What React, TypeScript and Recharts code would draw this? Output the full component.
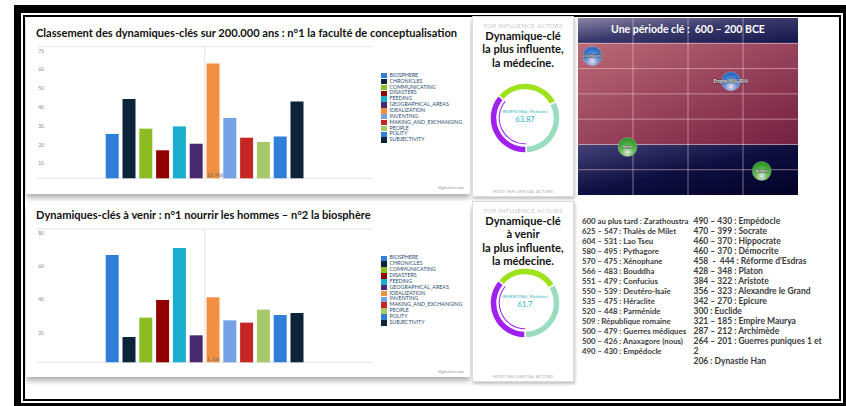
import {
  Bar,
  BarChart,
  CartesianGrid,
  Cell,
  Legend,
  Pie,
  PieChart,
  ReferenceArea,
  ReferenceLine,
  Scatter,
  ScatterChart,
  XAxis,
  YAxis,
} from "recharts";

// dynamiques-clés (Highcharts default palette)
const dynamics = [
  "BIOSPHERE",
  "CHRONICLES",
  "COMMUNICATING",
  "DISASTERS",
  "FEEDING",
  "GEOGRAPHICAL_AREAS",
  "IDEALIZATION",
  "INVENTING",
  "MAKING_AND_EXCHANGING",
  "PEOPLE",
  "POLITY",
  "SUBJECTIVITY",
];
const dynamicColors = [
  "#2f7ed8",
  "#0d233a",
  "#8bbc21",
  "#910000",
  "#1aadce",
  "#492970",
  "#f28f43",
  "#77a1e5",
  "#c42525",
  "#a6c96a",
  "#2f7ed8",
  "#0d233a",
];
const pastValues = [23.6, 42.2, 26.4, 14.9, 27.6, 18.4, 61.0, 32.1, 21.6, 19.3, 22.2, 40.9];
const futureValues = [64.4, 15.2, 26.8, 37.4, 68.6, 16.2, 39.0, 25.2, 23.8, 31.6, 28.4, 29.6];
const pastTicks = [0, 10, 20, 30, 40, 50, 60, 70];
const futureTicks = [0, 20, 40, 60, 80];

// donuts
const shareColors = ["#9ee21c", "#99dcc0", "#a020f0"];
const pastShares = [
  { name: "FEEDING", value: 54.2 },
  { name: "IDEALIZATION", value: 56.1 },
  { name: "INVENTING_Medicine", value: 63.87 },
];
const futureShares = [
  { name: "FEEDING", value: 51.2 },
  { name: "IDEALIZATION", value: 58.0 },
  { name: "INVENTING_Medicine", value: 61.7 },
];

// période clé
const yearTicks = [-600, -500, -400, -300, -200];
const rowTicks = [1, 2, 3, 4, 5, 6];
const thinkers = [
  { x: -574, y: 5.5, name: "Zarathoustra" },
  { x: -322, y: 4.5, name: "Empire MAURYA" },
];
const empires = [
  { x: -510, y: 1.9, name: "Rome" },
  { x: -266, y: 0.95, name: "Ashoka" },
];

const leftEvents = [
  "600 au plus tard : Zarathoustra",
  "625 – 547 : Thalès de Milet",
  "604 – 531 : Lao Tseu",
  "580 – 495 : Pythagore",
  "570 – 475 : Xénophane",
  "566 – 483 : Bouddha",
  "551 – 479 : Confucius",
  "550 – 539 : Deutéro-Isaïe",
  "535 – 475 : Héraclite",
  "520 – 448 : Parménide",
  "509 : République romaine",
  "500 – 479 : Guerres médiques",
  "500 – 426 : Anaxagore (nous)",
  "490 – 430 : Empédocle",
];
const rightEvents = [
  "490 – 430 : Empédocle",
  "470 – 399 : Socrate",
  "460 – 370 : Hippocrate",
  "460 – 370 : Démocrite",
  "458  -  444 : Réforme d'Esdras",
  "428 – 348 : Platon",
  "384 – 322 : Aristote",
  "356 – 323 : Alexandre le Grand",
  "342 – 270 : Epicure",
  "300 : Euclide",
  "321 – 185 : Empire Maurya",
  "287 – 212 : Archimède",
  "264 – 201 : Guerres puniques 1 et",
  "2",
  "206 : Dynastie Han",
];

const FONT = "Lato, 'Open Sans', sans-serif";

const AxisTick = ({ x, y, payload, textAnchor }: any) =>
  payload.value === 0 ? null : (
    <text x={x} y={y + 5.8} textAnchor={textAnchor} fontSize={5} fill="#8a8a8a" fontFamily={FONT}>
      {payload.value}
    </text>
  );

const renderLegend = ({ payload }: any) => (
  <div>
    {payload.map((item: any) => (
      <div key={item.value} style={{ display: "flex", alignItems: "center", height: 5.87 }}>
        <span style={{ width: 5.5, height: 5.5, background: item.color, marginRight: 3 }} />
        <span style={{ fontSize: 5.3, color: "#274b6d", fontFamily: FONT, lineHeight: "5.87px" }}>
          {item.value}
        </span>
      </div>
    ))}
  </div>
);

function DynamicsChart({
  top,
  plotTop,
  plotBottom,
  values,
  ticks,
  dateLabel,
  legendTop,
}: {
  top: number;
  plotTop: number;
  plotBottom: number;
  values: number[];
  ticks: number[];
  dateLabel: string;
  legendTop: number;
}) {
  const row: Record<string, string | number> = { date: dateLabel };
  dynamics.forEach((name, i) => (row[name] = values[i]));
  const domain = [0, ticks[ticks.length - 1]];
  return (
    <div style={{ position: "absolute", left: 20, top }}>
      <BarChart
        width={450}
        height={150}
        data={[row]}
        barSize={13}
        barGap={3.8}
        margin={{ top: plotTop - top, right: 97.3, left: 16.7, bottom: top + 150 - plotBottom }}
      >
        <CartesianGrid stroke="#e4e4e4" vertical={false} />
        <ReferenceLine
          x={dateLabel}
          yAxisId="left"
          stroke="#e4e4e4"
          label={(p: any) => (
            <text
              x={p.viewBox.x + 2}
              y={p.viewBox.y + p.viewBox.height - 1.5}
              fontSize={5}
              fill="#6b6b6b"
              fontFamily={FONT}
            >
              {dateLabel}
            </text>
          )}
        />
        {dynamics.map((name, i) => (
          <Bar
            key={name}
            yAxisId="left"
            dataKey={name}
            fill={dynamicColors[i]}
            isAnimationActive={false}
          />
        ))}
        <XAxis dataKey="date" height={0} tick={false} tickLine={false} axisLine={{ stroke: "#c0d0e0" }} />
        <YAxis
          yAxisId="left"
          domain={domain}
          ticks={ticks}
          interval={0}
          mirror
          tickSize={0}
          tickMargin={1.5}
          axisLine={false}
          tick={<AxisTick />}
        />
        <YAxis
          yAxisId="right"
          orientation="right"
          domain={domain}
          ticks={ticks}
          interval={0}
          mirror
          tickSize={0}
          tickMargin={1}
          axisLine={false}
          tick={<AxisTick />}
        />
        <Legend
          layout="vertical"
          align="center"
          verticalAlign="middle"
          content={renderLegend}
          wrapperStyle={{ left: 361, top: legendTop, width: 100 }}
        />
      </BarChart>
    </div>
  );
}

function InfluencePanel({
  top,
  height,
  lines,
  shares,
  pieTop,
}: {
  top: number;
  height: number;
  lines: string[];
  shares: { name: string; value: number }[];
  pieTop: number;
}) {
  const lead = shares[shares.length - 1];
  return (
    <>
      <div
        style={{
          position: "absolute",
          left: 472,
          top,
          width: 102,
          height,
          background: "#fff",
          border: "1px solid #ddd",
          boxShadow: "1px 2px 3px rgba(0,0,0,0.25)",
          boxSizing: "border-box",
        }}
      />
      <div
        style={{
          position: "absolute",
          left: 472,
          width: 102,
          top: top + 6.5,
          textAlign: "center",
          fontSize: 6.3,
          lineHeight: "6px",
          color: "#c8c8c8",
          fontFamily: FONT,
          letterSpacing: 0.3,
        }}
      >
        TOP INFLUENCE ACTORS
      </div>
      <div
        style={{
          position: "absolute",
          left: 472,
          width: 102,
          top: top + 13,
          textAlign: "center",
          fontSize: 11.2,
          lineHeight: "13.4px",
          fontWeight: 700,
          color: "#111",
          fontFamily: FONT,
        }}
      >
        {lines.map((l) => (
          <div key={l}>{l}</div>
        ))}
      </div>
      <div style={{ position: "absolute", left: 475, top: pieTop }}>
        <PieChart width={100} height={100} margin={{ top: 0, right: 0, bottom: 0, left: 0 }}>
          <Pie
            data={shares}
            dataKey="value"
            cx={50}
            cy={50}
            innerRadius={28}
            outerRadius={35}
            startAngle={140}
            endAngle={-220}
            stroke="#fff"
            strokeWidth={1.5}
            isAnimationActive={false}
          >
            {shares.map((s, i) => (
              <Cell key={s.name} fill={shareColors[i]} />
            ))}
          </Pie>
          <Pie
            data={shares}
            dataKey="value"
            cx={50}
            cy={50}
            innerRadius={25.3}
            outerRadius={26.3}
            startAngle={140}
            endAngle={-220}
            stroke="none"
            isAnimationActive={false}
          >
            {shares.map((s, i) => (
              <Cell key={s.name} fill={i === shares.length - 1 ? shareColors[i] : "transparent"} />
            ))}
          </Pie>
        </PieChart>
        <div
          style={{
            position: "absolute",
            left: 0,
            width: 100,
            top: 39.5,
            textAlign: "center",
            fontFamily: FONT,
            color: "#2ab3b8",
          }}
        >
          <div style={{ fontSize: 4.6, lineHeight: "7px" }}>{lead.name}</div>
          <div style={{ fontSize: 7.6, lineHeight: "9px" }}>{lead.value}</div>
        </div>
      </div>
      <div
        style={{
          position: "absolute",
          left: 472,
          width: 102,
          top: top + height - 8,
          textAlign: "center",
          fontSize: 4.2,
          color: "#aaa",
          fontFamily: FONT,
          letterSpacing: 0.2,
        }}
      >
        MOST INFLUENTIAL ACTORS
      </div>
    </>
  );
}

const Bubble = ({ cx, cy, payload, fill, fontSize }: any) => (
  <g>
    <circle cx={cx} cy={cy} r={9.5} fill={fill} stroke="rgba(255,255,255,0.35)" strokeWidth={0.6} />
    <text
      x={cx}
      y={cy + 1.4}
      textAnchor="middle"
      fontSize={fontSize}
      fontFamily={FONT}
      fontWeight={700}
      fill="#fff"
      stroke="#000"
      strokeWidth={0.5}
      paintOrder="stroke"
    >
      {payload.name}
    </text>
  </g>
);

const gridStroke = "rgba(255,215,215,0.55)";

function PeriodChart() {
  return (
    <div style={{ position: "absolute", left: 578, top: 18 }}>
      <ScatterChart width={220} height={177} margin={{ top: 0, right: 0, bottom: 0, left: 0 }}>
        <defs>
          <linearGradient id="bandTop" x1="0" y1="0" x2="1" y2="1">
            <stop offset="0%" stopColor="#8a84a6" />
            <stop offset="45%" stopColor="#3b3a6c" />
            <stop offset="100%" stopColor="#15154a" />
          </linearGradient>
          <linearGradient id="bandRed" x1="0" y1="0" x2="1" y2="1">
            <stop offset="0%" stopColor="#bb6a77" />
            <stop offset="55%" stopColor="#94405a" />
            <stop offset="100%" stopColor="#74203f" />
          </linearGradient>
          <linearGradient id="bandLow" x1="0" y1="0" x2="1" y2="1">
            <stop offset="0%" stopColor="#45437a" />
            <stop offset="50%" stopColor="#0e0e40" />
            <stop offset="100%" stopColor="#020228" />
          </linearGradient>
          <radialGradient id="bubbleBlue" cx="50%" cy="78%" r="65%">
            <stop offset="0%" stopColor="#f2dbe8" />
            <stop offset="45%" stopColor="#6d9ad8" />
            <stop offset="100%" stopColor="#2a6cc4" />
          </radialGradient>
          <radialGradient id="bubbleGreen" cx="50%" cy="78%" r="65%">
            <stop offset="0%" stopColor="#e8e4ee" />
            <stop offset="45%" stopColor="#6fbf5c" />
            <stop offset="100%" stopColor="#2f9a2a" />
          </radialGradient>
        </defs>
        <XAxis type="number" dataKey="x" domain={[-600, -200]} ticks={yearTicks} hide />
        <YAxis type="number" dataKey="y" domain={[0, 7]} hide />
        <ReferenceArea y1={6} y2={7} fill="url(#bandTop)" fillOpacity={1} stroke="none" />
        <ReferenceArea y1={2} y2={6} fill="url(#bandRed)" fillOpacity={1} stroke="none" />
        <ReferenceArea y1={0} y2={2} fill="url(#bandLow)" fillOpacity={1} stroke="none" />
        {yearTicks.slice(1, -1).map((t) => (
          <ReferenceLine key={`x${t}`} x={t} stroke={gridStroke} strokeWidth={0.9} />
        ))}
        {rowTicks.map((t) => (
          <ReferenceLine key={`y${t}`} y={t} stroke={gridStroke} strokeWidth={0.9} />
        ))}
        <Scatter
          data={thinkers}
          isAnimationActive={false}
          shape={(p: any) => (
            <Bubble {...p} fill="url(#bubbleBlue)" fontSize={p.payload.name.length > 12 ? 4.6 : 3.4} />
          )}
        />
        <Scatter
          data={empires}
          isAnimationActive={false}
          shape={(p: any) => <Bubble {...p} fill="url(#bubbleGreen)" fontSize={3.8} />}
        />
      </ScatterChart>
      <div
        style={{
          position: "absolute",
          left: 0,
          top: 5,
          width: 220,
          textAlign: "center",
          color: "#fff",
          fontFamily: FONT,
          fontWeight: 700,
          fontSize: 10.5,
          whiteSpace: "pre",
        }}
      >
        {"Une période clé :  600 – 200 BCE"}
      </div>
    </div>
  );
}

const titleStyle = {
  position: "absolute" as const,
  left: 36,
  fontFamily: FONT,
  fontWeight: 700,
  fontSize: 11.1,
  lineHeight: "14px",
  color: "#111",
  whiteSpace: "nowrap" as const,
};

const creditStyle = {
  position: "absolute" as const,
  left: 420,
  width: 44,
  textAlign: "right" as const,
  fontFamily: FONT,
  fontSize: 3.8,
  color: "#999",
};

const eventStyle = {
  position: "absolute" as const,
  top: 215.7,
  fontFamily: FONT,
  fontWeight: 700,
  lineHeight: "10px",
  color: "#3a3a3a",
  whiteSpace: "pre" as const,
};

export default function App() {
  return (
    <div
      style={{
        position: "fixed",
        left: 0,
        top: 0,
        width: 846,
        height: 406,
        background: "#fff",
        overflow: "hidden",
      }}
    >
      <div
        style={{
          position: "absolute",
          left: 14,
          top: 5,
          width: 832,
          height: 401,
          boxSizing: "border-box",
          borderStyle: "solid",
          borderColor: "#000",
          borderWidth: "8px 3px 3px 7px",
        }}
      />
      <div
        style={{
          position: "absolute",
          left: 23,
          top: 15,
          width: 818,
          height: 386,
          boxSizing: "border-box",
          border: "2px solid #000",
        }}
      />

      <div
        style={{
          position: "absolute",
          left: 26,
          top: 17,
          width: 444,
          height: 177,
          background: "#fff",
          boxShadow: "0 4px 5px rgba(0,0,0,0.3)",
        }}
      />
      <div
        style={{
          position: "absolute",
          left: 26,
          top: 204,
          width: 444,
          height: 173,
          background: "#fff",
          boxShadow: "0 4px 5px rgba(0,0,0,0.3)",
        }}
      />
      <div style={{ ...titleStyle, top: 26 }}>
        Classement des dynamiques-clés sur 200.000 ans : n°1 la faculté de conceptualisation
      </div>
      <div style={{ ...titleStyle, top: 208 }}>
        Dynamiques-clés à venir : n°1 nourrir les hommes – n°2 la biosphère
      </div>
      <DynamicsChart
        top={40}
        plotTop={46.7}
        plotBottom={178.3}
        values={pastValues}
        ticks={pastTicks}
        dateLabel="16. Mai"
        legendTop={32.8}
      />
      <DynamicsChart
        top={225}
        plotTop={229}
        plotBottom={362.3}
        values={futureValues}
        ticks={futureTicks}
        dateLabel="1. Jun"
        legendTop={30.4}
      />
      <div style={{ ...creditStyle, top: 185 }}>Highcharts.com</div>
      <div style={{ ...creditStyle, top: 368.5 }}>Highcharts.com</div>

      <InfluencePanel
        top={16}
        height={181}
        lines={["Dynamique-clé", "la plus influente,", "la médecine."]}
        shares={pastShares}
        pieTop={68}
      />
      <InfluencePanel
        top={201}
        height={181}
        lines={["Dynamique-clé", "à venir", "la plus influente,", "la médecine."]}
        shares={futureShares}
        pieTop={253}
      />

      <PeriodChart />

      <div style={{ ...eventStyle, left: 582, fontSize: 7.8 }}>
        {leftEvents.map((e, i) => (
          <div key={i}>{e}</div>
        ))}
      </div>
      <div style={{ ...eventStyle, left: 693.5, fontSize: 8.5 }}>
        {rightEvents.map((e, i) => (
          <div key={i}>{e}</div>
        ))}
      </div>
    </div>
  );
}
